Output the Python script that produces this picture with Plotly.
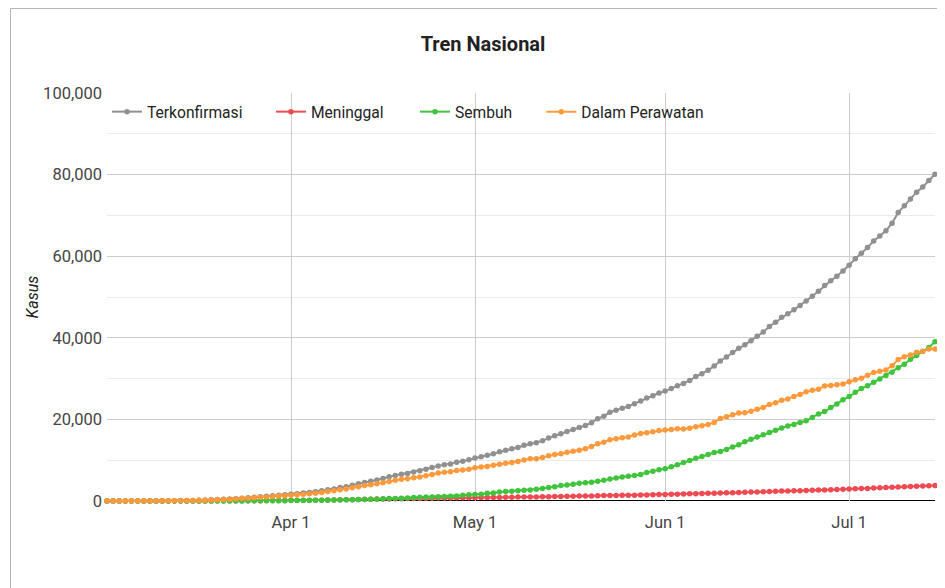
import plotly.graph_objects as go
import pandas as pd

dates = pd.date_range("2020-03-02", "2020-07-15", freq="D")

terkonfirmasi = [
    2, 2, 2, 2, 4, 4, 6, 19, 27, 34, 34, 69, 96, 117, 134, 172, 227, 309, 369, 450,
    514, 579, 686, 790, 893, 1046, 1155, 1285, 1414, 1528,
    1677, 1790, 1986, 2092, 2273, 2491, 2738, 2956, 3293, 3512, 3842, 4241, 4557, 4839, 5136,
    5516, 5923, 6248, 6575, 6760, 7135, 7418, 7775, 8211, 8607, 8882, 9096, 9511, 9771, 10118,
    10551, 10843, 11192, 11587, 12071, 12438, 12776, 13112, 13645, 14032, 14265, 14749, 15438,
    16006, 16496, 17025, 17514, 18010, 18496, 19189, 20162, 20796, 21745, 22271, 22750, 23165,
    23851, 24538, 25216, 25773, 26473,
    26940, 27549, 28233, 28818, 29521, 30514, 31186, 32033, 33076, 34316, 35295, 36406, 37420,
    38277, 39294, 40400, 41431, 42762, 43803, 45029, 45891, 46845, 47896, 49009, 50187, 51427,
    52812, 54010, 55092, 56385,
    57770, 59394, 60695, 62142, 63749, 64958, 66226, 68079, 70736, 72347, 74018, 75699, 76981,
    78572, 80094,
]

meninggal = [
    0, 0, 0, 0, 0, 0, 0, 0, 0, 1, 1, 4, 5, 5, 5, 5, 19, 25, 32, 38,
    48, 49, 55, 58, 78, 87, 102, 114, 122, 136,
    157, 170, 181, 191, 198, 209, 221, 240, 280, 306, 327, 373, 399, 459, 469,
    496, 520, 535, 582, 590, 616, 635, 647, 689, 720, 743, 765, 773, 784, 792,
    800, 831, 845, 864, 872, 895, 930, 959, 973, 991, 1007, 1028, 1043, 1076, 1089,
    1148, 1191, 1221, 1221, 1242, 1278, 1326, 1351, 1372, 1391, 1418, 1418, 1473, 1496, 1520, 1573,
    1613, 1641, 1663, 1721, 1770, 1801, 1851, 1883, 1923, 1959, 2000, 2048, 2091, 2134, 2198,
    2231, 2276, 2339, 2373, 2429, 2465, 2500, 2535, 2573, 2620, 2683, 2720, 2754, 2805, 2876,
    2934, 2987, 3036, 3089, 3171, 3241, 3309, 3359, 3417, 3469, 3535, 3606, 3656, 3710, 3797,
]

sembuh = [
    0, 0, 0, 0, 0, 0, 0, 0, 0, 0, 0, 5, 8, 8, 8, 9, 11, 15, 16, 20,
    29, 30, 30, 31, 35, 46, 59, 64, 75, 81,
    103, 112, 134, 150, 164, 192, 204, 222, 252, 282, 286, 359, 380, 426, 446,
    548, 607, 631, 686, 747, 842, 913, 960, 1002, 1042, 1107, 1151, 1254, 1391, 1522,
    1591, 1665, 1876, 1954, 2197, 2317, 2381, 2494, 2607, 2698, 2881, 3063, 3287, 3518, 3803,
    3911, 4129, 4324, 4467, 4575, 4838, 5057, 5402, 5642, 5877, 6057, 6240, 6492, 7015, 7308, 7637,
    7935, 8406, 8892, 9443, 9907, 10498, 10904, 11414, 11884, 12129, 12636, 13213, 13776, 14531,
    15123, 15703, 16243, 16798, 17349, 17883, 18404, 18735, 19241, 19658, 20449, 21333, 21909,
    22936, 23800, 24806,
    25595, 26667, 27568, 28219, 29105, 29919, 30785, 31585, 32651, 33529, 34719, 35638, 36689,
    37636, 39050,
]

dalam_perawatan = [
    2, 2, 2, 2, 4, 4, 6, 19, 27, 33, 33, 60, 83, 104, 121, 158, 197, 269, 321, 392,
    437, 500, 601, 701, 780, 913, 994, 1107, 1217, 1311,
    1417, 1508, 1671, 1751, 1911, 2090, 2313, 2494, 2761, 2924, 3229, 3509, 3778, 3954, 4221,
    4472, 4796, 5082, 5307, 5423, 5677, 5870, 6168, 6520, 6845, 7032, 7180, 7484, 7596, 7804,
    8160, 8347, 8471, 8769, 9002, 9226, 9465, 9659, 10065, 10343, 10377, 10658, 11108, 11412,
    11604, 11966, 12194, 12465, 12808, 13372, 14046, 14413, 14992, 15257, 15482, 15690, 16193,
    16573, 16705, 16945, 17263,
    17392, 17502, 17678, 17654, 17844, 18215, 18431, 18736, 19269, 20228, 20659, 21145, 21553,
    21612, 21973, 22466, 22912, 23625, 24081, 24717, 25022, 25610, 26120, 26778, 27118, 27411,
    28183, 28320, 28487, 28703,
    29241, 29740, 30091, 30834, 31473, 31798, 32132, 33135, 34668, 35349, 35764, 36455, 36636,
    37226, 37247,
]

series = [
    ("Terkonfirmasi", terkonfirmasi, "#909090", "legend"),
    ("Meninggal", meninggal, "#ee4a52", "legend2"),
    ("Sembuh", sembuh, "#3fc43b", "legend3"),
    ("Dalam Perawatan", dalam_perawatan, "#ff9a3c", "legend4"),
]
legend_x = [0.0, 0.198, 0.372, 0.5245]

FONT = "Roboto"
W, H = 937, 580          # page body has an 8px margin
L, R, T, B = 99, 10, 85, 87
PW, PH = W - L - R, H - T - B

fig = go.Figure()
for name, vals, col, lg in series:
    fig.add_trace(go.Scatter(
        x=dates, y=vals, name=name, mode="lines+markers",
        line=dict(color=col, width=2),
        marker=dict(color=col, size=5.5),
        cliponaxis=False, legend=lg,
    ))

legend_common = dict(orientation="h", xanchor="left", y=1.0 - 2 / PH, yanchor="top",
                     bgcolor="rgba(0,0,0,0)",
                     font=dict(family=FONT, size=15.6, color="#222222"))

fig.update_layout(
    width=W, height=H,
    margin=dict(l=L, r=R, t=T, b=B),
    paper_bgcolor="white", plot_bgcolor="white",
    font=dict(family=FONT, size=16, color="#444444"),
    title=dict(text="<b>Tren Nasional</b>", x=475 / W, xanchor="center",
               y=1 - 36 / H, yanchor="middle",
               font=dict(family=FONT, size=20, color="#222222")),
    showlegend=True,
    legend=dict(x=legend_x[0], **legend_common),
    legend2=dict(x=legend_x[1], **legend_common),
    legend3=dict(x=legend_x[2], **legend_common),
    legend4=dict(x=legend_x[3], **legend_common),
    xaxis=dict(
        type="date", range=["2020-03-02", "2020-07-15"],
        tickvals=["2020-04-01", "2020-05-01", "2020-06-01", "2020-07-01"],
        tickformat="%b %-d", showgrid=True, gridcolor="#cccccc", gridwidth=1,
        zeroline=False, showline=False, ticks="", ticklabelstandoff=9,
        tickfont=dict(family=FONT, size=16.5, color="#444444"),
    ),
    yaxis=dict(
        range=[0, 100000], tickvals=[0, 20000, 40000, 60000, 80000, 100000],
        tickformat=",d", showgrid=True, gridcolor="#cccccc", gridwidth=1,
        minor=dict(dtick=10000, showgrid=True, gridcolor="#ebebeb", gridwidth=1),
        zeroline=False, showline=False, ticks="", ticklabelstandoff=4,
        tickfont=dict(family=FONT, size=16.5, color="#444444"),
        title=dict(text="<i>Kasus</i>", standoff=0,
                   font=dict(family=FONT, size=16, color="#222222")),
    ),
    shapes=[
        dict(type="line", xref="paper", yref="y", x0=0, x1=1, y0=0, y1=0,
             line=dict(color="#000000", width=2), layer="below"),
        dict(type="rect", xref="paper", yref="paper",
             x0=(2.5 - L) / PW, x1=(W + 20 - L) / PW,
             y0=-(H + 40 - (H - B)) / PH, y1=((H - B) - 0.5) / PH,
             line=dict(color="#b5b5b5", width=1), layer="below"),
    ],
)

fig.write_html("out.html")
